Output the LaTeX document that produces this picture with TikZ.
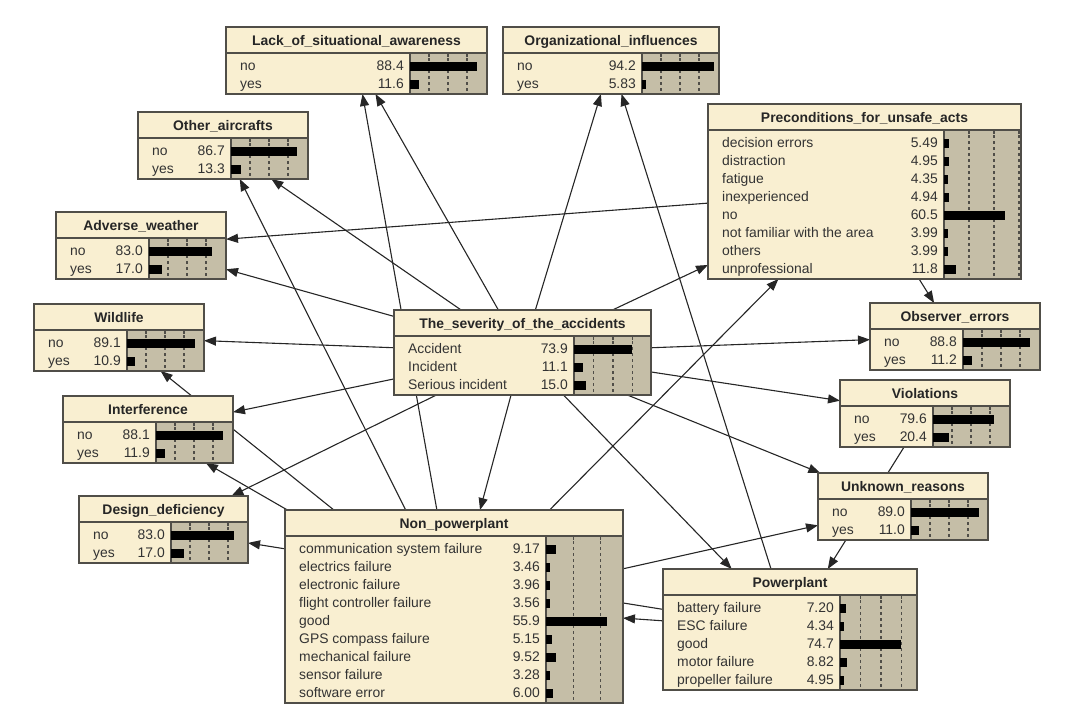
\documentclass[tikz,border=0pt]{standalone}
\usepackage{fontspec}
\setmainfont{Liberation Sans}
\usetikzlibrary{arrows.meta,backgrounds}

\definecolor{nodecream}{RGB}{249,239,209}
\definecolor{barkhaki}{RGB}{197,190,167}
\definecolor{framegray}{RGB}{80,78,72}

% #1 name, #2 left, #3 top, #4 width, #5 number of states, #6 length of 100 %, #7 title, #8 states
\newcommand{\bnnode}[8]{%
    \pgfmathsetmacro{\bnx}{#2+#4-77}%
    \pgfmathsetmacro{\bnh}{31+18*#5}%
    \node[bnbox,minimum width=#4,minimum height=\bnh,anchor=north west] (#1) at (#2,#3) {};
    \fill[barkhaki] (\bnx,#3+26) rectangle (#2+#4,#3+\bnh);
    \begin{scope}
        \clip (\bnx,#3+26) rectangle (#2+#4-1,#3+\bnh);
        \foreach \p in {25,50,75} {
            \draw[framegray,line width=1.3pt] (\bnx+\p*#6/100,#3+26) -- (\bnx+\p*#6/100,#3+30);
            \draw[framegray,line width=1.3pt,dash pattern=on 2.5pt off 3.5pt]
                (\bnx+\p*#6/100,#3+31) -- (\bnx+\p*#6/100,#3+\bnh);
        }
    \end{scope}
    \draw[framegray,line width=1.4pt] (#2,#3+26) -- (#2+#4,#3+26);
    \draw[framegray,line width=1.4pt] (\bnx,#3+26) -- (\bnx,#3+\bnh);
    \node[bntitle] at (#2+#4/2,#3+18) {#7};
    \foreach \s/\v [count=\i] in {#8} {
        \node[bnstate] at (#2+14,#3+25.8+18*\i) {\s};
        \node[bnvalue] at (\bnx-6,#3+25.8+18*\i) {\v};
        \fill (\bnx,#3+16.5+18*\i) rectangle ++(\v*#6/100,9);
    }
    \draw[framegray,line width=1.2pt] (#1.north west) rectangle (#1.south east);
}

\begin{document}
\begin{tikzpicture}[x=1pt,y=-1pt,line cap=butt,line join=miter,
        bnbox/.style={draw=framegray,fill=nodecream,inner sep=0pt,outer sep=0pt},
        bntitle/.style={anchor=base,inner sep=0pt,text=black!85,
            font=\fontsize{13.9}{16}\selectfont\bfseries},
        bnstate/.style={anchor=base west,inner sep=0pt,text=black!80,
            font=\fontsize{13.9}{16}\selectfont},
        bnvalue/.style={anchor=base east,inner sep=0pt,text=black!80,
            font=\fontsize{13.9}{16}\selectfont},
        link/.style={draw=black!85,line width=1.1pt,-{Triangle[length=12pt,width=9pt]}}]
    \useasboundingbox (0,0) rectangle (1080,707);

    \bnnode{lsa}{226}{27}{261}{2}{76}{Lack\_of\_situational\_awareness}{no/88.4,yes/11.6}
    \bnnode{oi}{503}{27}{216}{2}{76}{Organizational\_influences}{no/94.2,yes/5.83}
    \bnnode{oa}{138}{112}{170}{2}{76}{Other\_aircrafts}{no/86.7,yes/13.3}
    \bnnode{aw}{56}{212}{170}{2}{76}{Adverse\_weather}{no/83.0,yes/17.0}
    \bnnode{pua}{708}{104}{313}{8}{100}{Preconditions\_for\_unsafe\_acts}
        {decision errors/5.49,distraction/4.95,fatigue/4.35,inexperienced/4.94,no/60.5,
         not familiar with the area/3.99,others/3.99,unprofessional/11.8}
    \bnnode{wl}{34}{304}{170}{2}{76}{Wildlife}{no/89.1,yes/10.9}
    \bnnode{sev}{394}{310}{257}{3}{78}{The\_severity\_of\_the\_accidents}
        {Accident/73.9,Incident/11.1,Serious incident/15.0}
    \bnnode{oe}{870}{303}{170}{2}{76}{Observer\_errors}{no/88.8,yes/11.2}
    \bnnode{vio}{840}{380}{170}{2}{76}{Violations}{no/79.6,yes/20.4}
    \bnnode{itf}{63}{396}{170}{2}{76}{Interference}{no/88.1,yes/11.9}
    \bnnode{ur}{818}{473}{170}{2}{76}{Unknown\_reasons}{no/89.0,yes/11.0}
    \bnnode{dd}{79}{496}{169}{2}{76}{Design\_deficiency}{no/83.0,yes/17.0}
    \bnnode{np}{285}{510}{338}{9}{109}{Non\_powerplant}
        {communication system failure/9.17,electrics failure/3.46,electronic failure/3.96,
         flight controller failure/3.56,good/55.9,GPS compass failure/5.15,
         mechanical failure/9.52,sensor failure/3.28,software error/6.00}
    \bnnode{pp}{663}{569}{254}{5}{82}{Powerplant}
        {battery failure/7.20,ESC failure/4.34,good/74.7,motor failure/8.82,propeller failure/4.95}

    \begin{pgfonlayer}{background}
        \foreach \a/\b in {sev/lsa,sev/oi,sev/oa,sev/aw,sev/pua,sev/wl,sev/itf,sev/dd,
                sev/np,sev/oe,sev/vio,sev/ur,sev/pp,np/lsa,np/oa,np/itf,np/wl,np/pua,np/ur,
                pp/oi,pp/dd,pp/np,pua/aw,pua/oe,vio/pp}
            \draw[link] (\a) -- (\b);
    \end{pgfonlayer}
\end{tikzpicture}
\end{document}
